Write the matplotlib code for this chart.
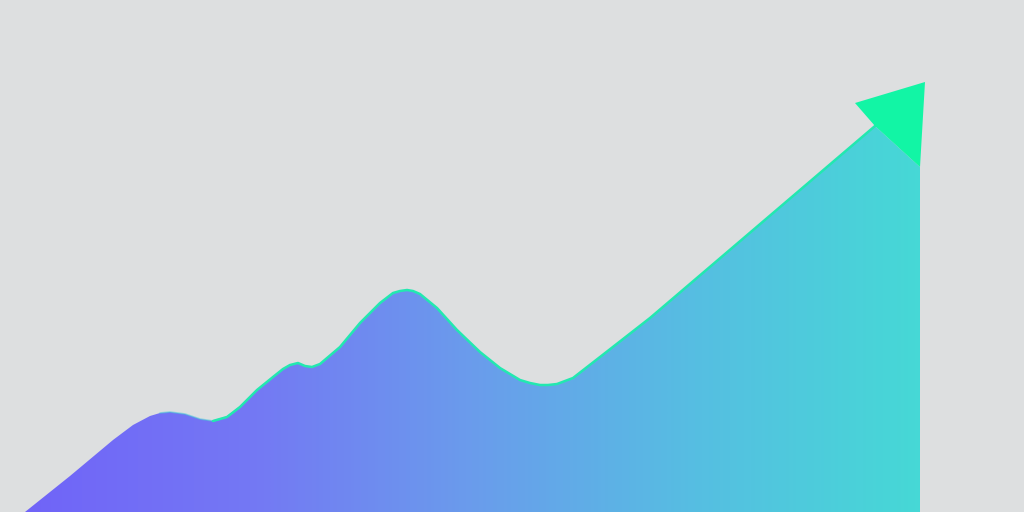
import numpy as np
import matplotlib
matplotlib.use('Agg')
from matplotlib import pyplot as plt
from matplotlib.colors import LinearSegmentedColormap
from matplotlib.path import Path
from matplotlib.patches import PathPatch, Polygon

# values (x position, height from the bottom)
trend_x = [25, 70, 113, 133, 150, 160, 170, 185, 200, 213, 227, 240,
           257, 273, 283, 290, 298, 305, 312, 320, 340, 360, 380, 393,
           400, 407, 413, 420, 437, 457, 480, 500, 520, 530, 540, 548,
           557, 573, 600, 650, 875]
trend_y = [0, 36, 72, 87, 96, 99, 100, 98, 93, 91, 95, 105,
           122, 135, 143, 147, 149, 146, 145, 148, 165, 189, 209, 219,
           221, 222, 221, 218, 204, 182, 160, 144, 132, 129, 127, 127,
           128, 134, 155, 194, 386]
arrow_x = [855, 925, 920, 875]
arrow_y = [409, 430, 345, 386]
end_x = 920

bg = '#dddfe0'
grad_colors = ['#7064f8', '#7478f4', '#6a9cec', '#56bee2', '#46d8d6']
line_color = '#22e8b0'
arrow_color = '#12f5a5'

fig = plt.figure(figsize=(10.24, 5.12), dpi=100, facecolor=bg)
ax = fig.add_axes([0, 0, 1, 1])
ax.set_facecolor(bg)
ax.set_xlim(0, 1024)
ax.set_ylim(0, 512)
ax.axis('off')

# area outline: curve, then up to the arrow notch, down the right edge
verts = list(zip(trend_x, trend_y))
verts += [(arrow_x[3], arrow_y[3]), (end_x, arrow_y[2]), (end_x, -5), (trend_x[0], -5)]
area = Path(verts + [verts[0]], [Path.MOVETO] + [Path.LINETO] * (len(verts) - 1) + [Path.CLOSEPOLY])
patch = PathPatch(area, facecolor='none', edgecolor='none')
ax.add_patch(patch)

cmap = LinearSegmentedColormap.from_list('trend', grad_colors)
grad = np.linspace(0, 1, 256).reshape(1, -1)
im = ax.imshow(grad, cmap=cmap, aspect='auto', extent=[trend_x[0], end_x, -5, 440],
               origin='lower', zorder=1, interpolation='bilinear')
im.set_clip_path(patch)

# top edge line: faint on the first bump, solid after it
ax.plot(trend_x[5:12], trend_y[5:12], color='#40c8d8', lw=1.2, alpha=0.5, zorder=2,
        solid_capstyle='round', solid_joinstyle='round')
ax.plot(trend_x[9:], trend_y[9:], color=line_color, lw=1.8, zorder=2,
        solid_capstyle='round', solid_joinstyle='round')

ax.add_patch(Polygon(list(zip(arrow_x, arrow_y)), closed=True,
                     facecolor=arrow_color, edgecolor='none', zorder=3))

fig.savefig('out.png', dpi=100, facecolor=bg)
